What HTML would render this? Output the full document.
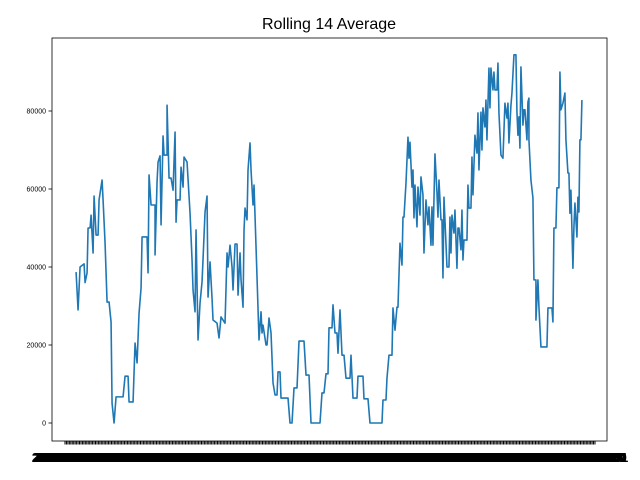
<!DOCTYPE html>
<html><head><meta charset="utf-8"><style>body{margin:0;background:#fff}svg{display:block}</style></head>
<body>
<svg id="chart" width="640" height="480" xmlns="http://www.w3.org/2000/svg" font-family="Liberation Sans, sans-serif">
<text x="329" y="29" text-anchor="middle" font-size="16">Rolling 14 Average</text>
<g id="ticks"></g>
<g id="plot"></g>
<rect x="52" y="38" width="555" height="403" fill="none" stroke="#000" stroke-width="0.8"/>
</svg>
<script>
const days = [
0,2,4,8,9,11,12,14,15,17,
18,20,22,23,26,27,29,31,33,35,
36,38,40,47,49,52,53,57,59,61,
63,65,66,71,72,73,75,79,79,81,
82,84,85,87,88,91,91,93,95,97,
99,100,101,104,105,107,108,111,114,116,
117,119,120,122,124,126,127,129,131,132,
134,136,137,141,143,145,149,151,152,154,
156,157,159,161,162,164,165,167,168,169,
171,172,174,175,177,178,181,183,185,186,
187,190,191,193,195,197,199,201,202,204,
205,212,214,216,218,221,223,228,230,233,
235,244,246,248,250,252,253,256,257,259,
261,262,264,266,268,270,274,275,277,281,
282,287,288,292,294,306,307,310,311,313,
316,317,319,321,322,324,326,327,328,330,
332,333,334,336,337,338,339,341,342,344,
345,347,348,350,352,353,355,356,357,359,
361,362,363,365,366,367,368,371,373,374,
375,376,378,379,381,382,383,385,386,387,
388,391,392,393,395,396,397,399,401,402,
403,405,406,407,409,410,411,413,414,415,
417,418,419,421,422,423,425,427,429,431,
432,433,435,436,438,440,441,442,443,444,
445,447,448,449,451,452,453,453,455,457,
458,460,460,462,463,465,471,472,476,477,
478,480,481,483,484,485,487,489,490,492,
493,494,495,497,498,499,501,502,503,504,
505,506];
const values = [
38700,29000,40000,40800,36000,38500,50000,50000,53300,43600,
58200,48200,48200,57200,62300,57200,46100,31000,31000,25900,
5100,0,6700,6700,12000,12000,5400,5400,20500,15400,
28200,34600,47700,47700,38500,63600,55900,55900,43100,61800,
66900,68500,50800,73600,68700,68700,81500,62800,62800,59700,
74600,51500,57200,57200,65600,60500,68200,66900,53800,41800,
34100,28500,49500,21300,30800,36200,42000,54100,58200,32300,
41300,32000,26400,25600,21800,27200,25600,43600,40000,45600,
40000,34100,45900,45900,32800,43600,36700,29700,49500,55100,
52100,64900,71800,64900,55900,61000,37400,21300,28500,23100,
25100,20000,20000,26900,23100,10300,7200,7200,13100,13100,
6400,6400,0,0,9000,9000,21000,21000,12300,12300,
0,0,7700,7700,12600,12600,24400,24400,30300,23100,
23100,17900,29000,17400,17400,11500,11500,17400,6400,6400,
12000,12000,6200,6200,0,0,5900,5900,11500,17400,
17400,29500,23800,29700,29700,46100,40500,52800,52800,61500,
73300,67900,72000,60500,64900,52600,61000,50300,60500,53300,
63100,58500,43600,57200,50800,55400,45600,55400,45600,69000,
59000,52800,62300,52100,52100,37200,57900,40000,40000,52800,
43600,53300,48700,54600,39700,50000,50000,44400,54600,41800,
46900,46900,61000,55100,55100,68200,58500,73800,69200,79500,
64900,79700,70000,80800,75900,82800,72600,91000,80800,91000,
85400,90000,85400,85400,92300,79500,68700,67900,82000,78200,
82000,71800,81500,84600,94400,94400,79700,73800,78500,70500,
91300,76400,80300,80300,72600,82300,83300,72600,62300,57700,
36700,36700,26400,36700,29700,19500,19500,29500,29500,25900,
50000,50000,60300,60300,90000,80300,82000,84600,72600,64100,
64100,53800,59700,39700,50300,56400,47700,57900,54100,72600,
72600,82800];
const yTicks = [0,20000,40000,60000,80000];
const tickDates = [];
(function(){const d=new Date(Date.UTC(2020,0,1));for(let i=0;i<366;i++){tickDates.push(new Date(d.getTime()+i*864e5).toISOString().slice(0,10));}})();

const NS='http://www.w3.org/2000/svg';
const x0=52,x1=607,yTop=38,yBot=441;
const dMin=0,dMax=507,pad=(dMax-dMin)*0.0475;
const xs=v=>x0+(v-(dMin-pad))/((dMax+pad)-(dMin-pad))*(x1-x0);
const ys=v=>423-v/20000*78;
const plot=document.getElementById('plot'),tk=document.getElementById('ticks');
let d='';
const N=Math.min(days.length,values.length);
for(let i=0;i<N;i++){d+=(i?'L':'M')+xs(days[i]).toFixed(2)+' '+ys(values[i]).toFixed(2);}
const p=document.createElementNS(NS,'path');
p.setAttribute('d',d);p.setAttribute('fill','none');p.setAttribute('stroke','#1f77b4');p.setAttribute('stroke-width','1.6');p.setAttribute('stroke-linejoin','round');


plot.appendChild(p);
yTicks.forEach(v=>{
  const l=document.createElementNS(NS,'line');
  l.setAttribute('x1',x0-3.5);l.setAttribute('x2',x0);l.setAttribute('y1',ys(v));l.setAttribute('y2',ys(v));l.setAttribute('stroke','#000');l.setAttribute('stroke-width','0.8');
  
  
  tk.appendChild(l);
  const t=document.createElementNS(NS,'text');
  t.setAttribute('x',x0-6);t.setAttribute('y',ys(v)+2.5);t.setAttribute('text-anchor','end');t.setAttribute('font-size','7');
  t.textContent=v;
  
  
  tk.appendChild(t);
});
const n=tickDates.length;
tickDates.forEach((s,i)=>{
  const x=65+i*(595-65)/(n-1);
  const l=document.createElementNS(NS,'line');
  l.setAttribute('x1',x);l.setAttribute('x2',x);l.setAttribute('y1',yBot);l.setAttribute('y2',yBot+3.5);l.setAttribute('stroke','#000');l.setAttribute('stroke-width','1');
  
  
  tk.appendChild(l);
  const t=document.createElementNS(NS,'text');
  t.setAttribute('x',x);t.setAttribute('y',462);t.setAttribute('text-anchor','middle');t.setAttribute('font-size','13');t.setAttribute('font-weight','bold');
  t.textContent=s;
  
  
  tk.appendChild(t);
});
</script>
</body></html>
